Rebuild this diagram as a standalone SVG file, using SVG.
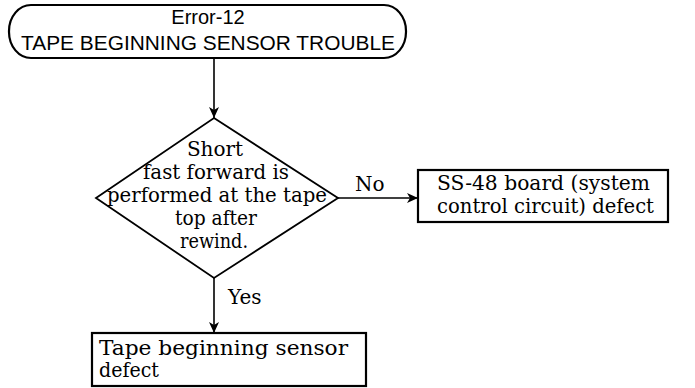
<svg xmlns="http://www.w3.org/2000/svg" width="695" height="388" viewBox="0 0 695 388">
<defs>
<style>
.box{fill:#fff;stroke:#000;stroke-width:2.2}
.dia{fill:#fff;stroke:#000;stroke-width:1.8}
.con{fill:none;stroke:#000;stroke-width:1.6}
.sans{font-family:"Liberation Sans",Arial,sans-serif;font-size:20px;fill:#000}
.serif{font-family:"DejaVu Serif","Liberation Serif",serif;font-size:20px;fill:#000}
</style>
<marker id="ah" markerWidth="12" markerHeight="12" viewBox="0 0 12 12" refX="11" refY="6" orient="auto" markerUnits="userSpaceOnUse">
<path d="M0,1 L11,6 L0,11 L3,6 Z" fill="#000"/>
</marker>
</defs>
<g id="start">
<rect class="box" x="9" y="5" width="397" height="53" rx="22" ry="26"/>
<text class="sans" x="208" y="24" text-anchor="middle">Error-12</text>
<text class="sans" x="208" y="50" text-anchor="middle" textLength="374" lengthAdjust="spacingAndGlyphs">TAPE BEGINNING SENSOR TROUBLE</text>
</g>
<g id="decision">
<polygon class="dia" points="214,118 338,198 214,278 96,198"/>
<text class="serif" x="215" y="156" text-anchor="middle">Short</text>
<text class="serif" x="216" y="179" text-anchor="middle" textLength="146" lengthAdjust="spacingAndGlyphs">fast forward is</text>
<text class="serif" x="217" y="202" text-anchor="middle" textLength="220" lengthAdjust="spacingAndGlyphs">performed at the tape</text>
<text class="serif" x="216" y="225" text-anchor="middle" textLength="82" lengthAdjust="spacingAndGlyphs">top after</text>
<text class="serif" x="214" y="248" text-anchor="middle" textLength="68" lengthAdjust="spacingAndGlyphs">rewind.</text>
</g>
<g id="board">
<rect class="box" x="418" y="170" width="250" height="52"/>
<text class="serif" x="437" y="190" textLength="213" lengthAdjust="spacingAndGlyphs">SS-48 board (system</text>
<text class="serif" x="437" y="213" textLength="217" lengthAdjust="spacingAndGlyphs">control circuit) defect</text>
</g>
<g id="sensor">
<rect class="box" x="92" y="333" width="274" height="53"/>
<text class="serif" x="99" y="355" textLength="249" lengthAdjust="spacingAndGlyphs">Tape beginning sensor</text>
<text class="serif" x="99" y="377" textLength="60" lengthAdjust="spacingAndGlyphs">defect</text>
</g>
<g id="connectors">
<line class="con" x1="214" y1="58" x2="214" y2="118" marker-end="url(#ah)"/>
<line class="con" x1="338" y1="198" x2="418" y2="198" marker-end="url(#ah)"/>
<line class="con" x1="214" y1="278" x2="214" y2="333" marker-end="url(#ah)"/>
<text class="serif" x="355" y="191">No</text>
<text class="serif" x="228" y="304">Yes</text>
</g>
</svg>
